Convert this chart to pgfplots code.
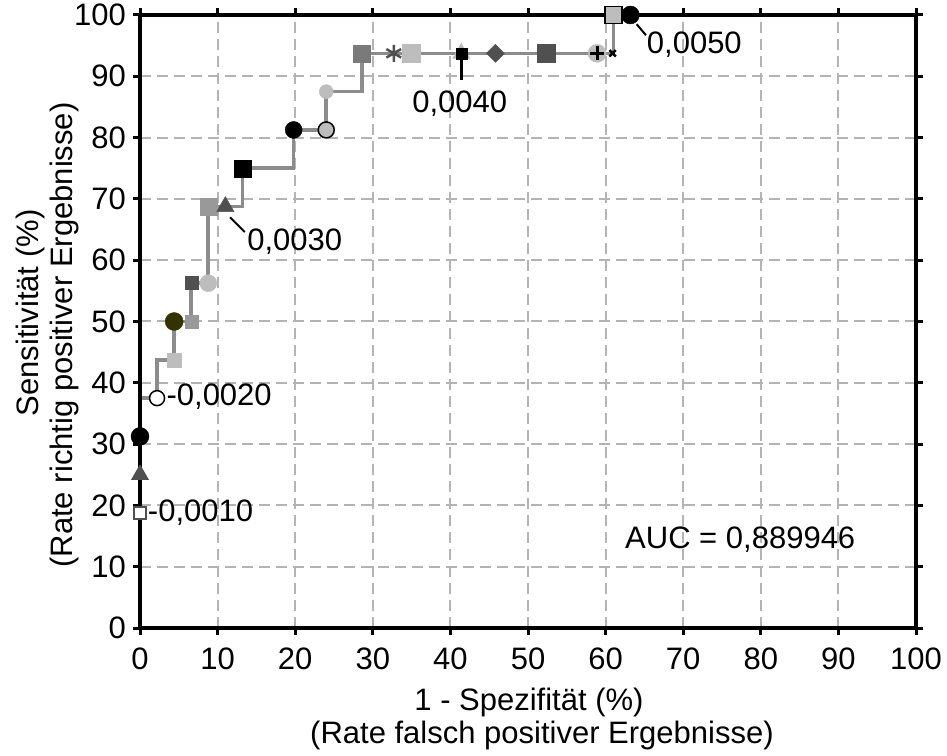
\documentclass[border=0pt]{standalone}
\usepackage{fontspec}
\setmainfont{Liberation Sans}
\usepackage{pgfplots}
\pgfplotsset{compat=1.18}
\definecolor{curve}{HTML}{8C8C8C}
\definecolor{gridc}{HTML}{B4B4B4}
\definecolor{dg}{HTML}{505050}
\definecolor{mg}{HTML}{999999}
\definecolor{lg}{HTML}{BDBDBD}
\definecolor{olivec}{HTML}{333300}
\definecolor{sqg}{HTML}{7A7A7A}
\begin{document}
\begin{tikzpicture}
\begin{axis}[
 at={(0,0)}, anchor=south west,
 scale only axis, width=776pt, height=613pt,
 xmin=0,xmax=100,ymin=0,ymax=100,
 xtick={0,10,...,100}, ytick={0,10,...,100},
 tick align=outside, major tick length=7pt,
 grid=major,
 grid style={gridc, line width=2pt, dash pattern=on 11pt off 6pt},
 axis line style={line width=3.3pt, black},
 tick style={black, line width=3pt},
 tick label style={font=\fontsize{31}{34}\selectfont, inner sep=0pt},
 /pgf/number format/assume math mode=true,
 xticklabel style={yshift=-13pt},
 yticklabel style={xshift=-7pt},
 clip=false,
 set layers=standard,
 font=\fontsize{31}{34}\selectfont,
]
% ROC step curve
\addplot[on layer=axis ticks, curve, line width=3.6pt, mark=none] coordinates {
 (0,0) (0,37.5) (2.2,37.5) (2.2,43.75) (4.4,43.75) (4.4,50) (6.6,50) (6.6,56.25)
 (8.8,56.25) (8.8,68.75) (13.2,68.75) (13.2,75) (19.8,75) (19.8,81.25) (24,81.25)
 (24,87.5) (28.6,87.5) (28.6,93.75) (61,93.75) (61,100) (63.2,100)};
\begin{pgfonlayer}{pre main}
\draw[black, line width=3.6pt] (axis cs:0,0) -- (axis cs:0,37.5);
\draw[black, line width=3.6pt] (axis cs:61,100) -- (axis cs:63.2,100);
\end{pgfonlayer}
% markers
\addplot[only marks, mark=square*, mark size=6pt, mark options={fill=white, draw=dg, line width=1.5pt}] coordinates {(0,18.75)};
\addplot[only marks, mark=triangle*, mark size=10pt, mark options={fill=dg, draw=dg}] coordinates {(0,25)};
\addplot[only marks, mark=*, mark size=9pt, mark options={fill=black, draw=black}] coordinates {(0,31.25)};
\addplot[only marks, mark=*, mark size=7.5pt, mark options={fill=white, draw=black, line width=1.5pt}] coordinates {(2.2,37.5)};
\addplot[only marks, mark=square*, mark size=7pt, mark options={fill=lg, draw=lg}] coordinates {(4.4,43.75)};
\addplot[only marks, mark=*, mark size=9pt, mark options={fill=olivec, draw=olivec}] coordinates {(4.4,50)};
\addplot[only marks, mark=square*, mark size=6.5pt, mark options={fill=mg, draw=mg}] coordinates {(6.6,50)};
\addplot[only marks, mark=square*, mark size=6.5pt, mark options={fill=dg, draw=dg}] coordinates {(6.6,56.25)};
\addplot[only marks, mark=*, mark size=8.5pt, mark options={fill=lg, draw=lg}] coordinates {(8.8,56.25)};
\addplot[only marks, mark=square*, mark size=8.5pt, mark options={fill=mg, draw=mg}] coordinates {(8.8,68.75)};
\addplot[only marks, mark=triangle*, mark size=10pt, mark options={fill=dg, draw=dg}] coordinates {(11,68.75)};
\addplot[only marks, mark=square*, mark size=8.5pt, mark options={fill=black, draw=black}] coordinates {(13.2,75)};
\addplot[only marks, mark=*, mark size=8.5pt, mark options={fill=black, draw=black}] coordinates {(19.8,81.25)};
\addplot[only marks, mark=*, mark size=8pt, mark options={fill=lg, draw=black, line width=1.5pt}] coordinates {(24,81.25)};
\addplot[only marks, mark=*, mark size=7pt, mark options={fill=lg, draw=lg}] coordinates {(24,87.5)};
\addplot[only marks, mark=square*, mark size=8.5pt, mark options={fill=sqg, draw=sqg}] coordinates {(28.6,93.75)};
\addplot[only marks, mark=asterisk, mark size=8.5pt, mark options={draw=dg, line width=2.5pt}] coordinates {(32.7,93.75)};
\addplot[only marks, mark=square*, mark size=9pt, mark options={fill=lg, draw=lg}] coordinates {(35,93.75)};
\addplot[only marks, mark=triangle*, mark size=10pt, mark options={fill=lg, draw=lg}] coordinates {(41.4,93.75)};
\addplot[only marks, mark=square*, mark size=5.5pt, mark options={fill=black, draw=black}] coordinates {(41.4,93.75)};
\addplot[only marks, mark=square*, mark size=6.4pt, mark options={fill=dg, draw=dg, rotate=45}] coordinates {(45.8,93.75)};
\addplot[only marks, mark=square*, mark size=9pt, mark options={fill=dg, draw=dg}] coordinates {(52.4,93.75)};
\addplot[only marks, mark=*, mark size=9pt, mark options={fill=lg, draw=lg}] coordinates {(58.9,93.75)};
\addplot[only marks, mark=+, mark size=7pt, mark options={draw=black, line width=3pt}] coordinates {(58.9,93.75)};
\addplot[only marks, mark=x, mark size=4.5pt, mark options={draw=black, line width=2.5pt}] coordinates {(60.9,93.75)};
\addplot[only marks, mark=square*, mark size=8.5pt, mark options={fill=lg, draw=black, line width=1.5pt}] coordinates {(61,100)};
\addplot[only marks, mark=*, mark size=9pt, mark options={fill=black, draw=black}] coordinates {(63.2,100)};
% annotations
\node[anchor=west, inner sep=0pt] at (axis cs:1,18.75) {-0,0010};
\node[anchor=west, inner sep=0pt] at (axis cs:3.4,37.7) {-0,0020};
\draw[black, line width=2pt] (axis cs:11.6,67.0) -- (axis cs:13.5,64.6);
\node[anchor=west, inner sep=0pt] at (axis cs:13.8,63.0) {0,0030};
\draw[black, line width=2.5pt] (axis cs:41.4,93.0) -- (axis cs:41.4,89.4);
\node[anchor=center, inner sep=0pt] at (axis cs:41.2,85.6) {0,0040};
\draw[black, line width=2pt] (axis cs:64.0,98.5) -- (axis cs:65.2,96.7);
\node[anchor=west, inner sep=0pt] at (axis cs:65.3,95.1) {0,0050};
\node[anchor=west, inner sep=0pt] at (axis cs:62.5,14.4) {AUC = 0,889946};
% axis labels
\node[anchor=base, inner sep=0pt] at (axis description cs:0.5013,-0.1338) {1 - Spezifität (\%)};
\node[anchor=base, inner sep=0pt] at (axis description cs:0.518,-0.1876) {(Rate falsch positiver Ergebnisse)};
\node[anchor=base, inner sep=0pt, rotate=90] at (axis description cs:-0.1302,0.5139) {Sensitivität (\%)};
\node[anchor=base, inner sep=0pt, rotate=90] at (axis description cs:-0.0876,0.478) {(Rate richtig positiver Ergebnisse)};
\end{axis}
\pgfresetboundingbox
\path[use as bounding box] (-140pt,-127pt) rectangle (807pt,628pt);
\end{tikzpicture}
\end{document}
